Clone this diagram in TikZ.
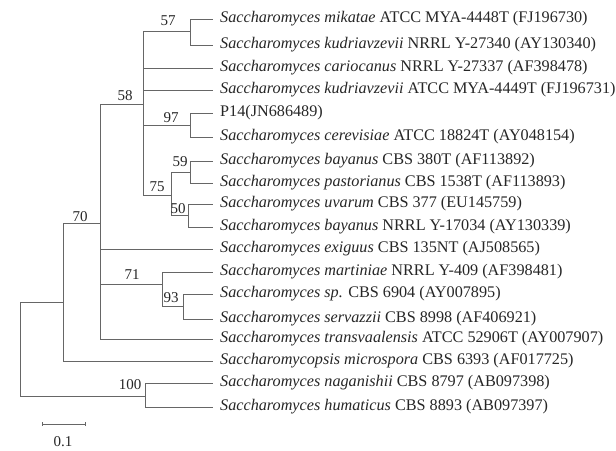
\documentclass[tikz,border=0pt]{standalone}
\usepackage{fontspec}
\setmainfont{Liberation Serif}
\begin{document}
\begin{tikzpicture}[x=1pt,y=-1pt,
  branch/.style={draw=black!60,line width=0.9pt},
  taxon/.style={anchor=west,inner xsep=7pt,inner ysep=1pt,text=black!85,font=\fontsize{16.2}{18}\selectfont},
  boot/.style={text=black!85,inner sep=0pt,font=\fontsize{15}{17}\selectfont}]
\useasboundingbox (0,0) rectangle (616,450);
% leaves
\node[taxon] (l1)  at (213,19)  {\textit{Saccharomyces mikatae} ATCC MYA-4448T (FJ196730)};
\node[taxon] (l2)  at (213,45)  {\textit{Saccharomyces kudriavzevii} NRRL Y-27340 (AY130340)};
\node[taxon] (l3)  at (213,68)  {\textit{Saccharomyces cariocanus} NRRL Y-27337 (AF398478)};
\node[taxon] (l4)  at (213,90)  {\textit{Saccharomyces kudriavzevii} ATCC MYA-4449T (FJ196731)};
\node[taxon] (l5)  at (213,113) {P14(JN686489)};
\node[taxon] (l6)  at (213,137) {\textit{Saccharomyces cerevisiae} ATCC 18824T (AY048154)};
\node[taxon] (l7)  at (213,161) {\textit{Saccharomyces bayanus} CBS 380T (AF113892)};
\node[taxon] (l8)  at (213,183) {\textit{Saccharomyces pastorianus} CBS 1538T (AF113893)};
\node[taxon] (l9)  at (213,204) {\textit{Saccharomyces uvarum} CBS 377 (EU145759)};
\node[taxon] (l10) at (213,227) {\textit{Saccharomyces bayanus} NRRL Y-17034 (AY130339)};
\node[taxon] (l11) at (213,249) {\textit{Saccharomyces exiguus} CBS 135NT (AJ508565)};
\node[taxon] (l12) at (213,272) {\textit{Saccharomyces martiniae} NRRL Y-409 (AF398481)};
\node[taxon] (l13) at (213,294) {\textit{Saccharomyces sp.} CBS 6904 (AY007895)};
\node[taxon] (l14) at (213,319) {\textit{Saccharomyces servazzii} CBS 8998 (AF406921)};
\node[taxon] (l15) at (213,339) {\textit{Saccharomyces transvaalensis} ATCC 52906T (AY007907)};
\node[taxon] (l16) at (213,361) {\textit{Saccharomycopsis microspora} CBS 6393 (AF017725)};
\node[taxon] (l17) at (213,383) {\textit{Saccharomyces naganishii} CBS 8797 (AB097398)};
\node[taxon] (l18) at (213,407) {\textit{Saccharomyces humaticus} CBS 8893 (AB097397)};
% internal nodes
\coordinate (n57) at (190,31);
\coordinate (n97) at (190,125);
\coordinate (n59) at (190,172);
\coordinate (n50) at (188,215);
\coordinate (n75) at (171,195);
\coordinate (n58) at (143,104);
\coordinate (n93) at (183,306);
\coordinate (n71) at (162,284);
\coordinate (n70) at (100,223);
\coordinate (nA)  at (63,302);
\coordinate (n100) at (145,396);
\coordinate (root) at (20,349);
% branches
\draw[branch] (n57) |- (l1.west) (n57) |- (l2.west);
\draw[branch] (n97) |- (l5.west) (n97) |- (l6.west);
\draw[branch] (n59) |- (l7.west) (n59) |- (l8.west);
\draw[branch] (n50) |- (l9.west) (n50) |- (l10.west);
\draw[branch] (n75) |- (n59) (n75) |- (n50);
\draw[branch] (n58) |- (n57) (n58) |- (l3.west) (n58) |- (l4.west) (n58) |- (n97) (n58) |- (n75);
\draw[branch] (n93) |- (l13.west) (n93) |- (l14.west);
\draw[branch] (n71) |- (l12.west) (n71) |- (n93);
\draw[branch] (n70) |- (n58) (n70) |- (l11.west) (n70) |- (n71) (n70) |- (l15.west);
\draw[branch] (nA) |- (n70) (nA) |- (l16.west);
\draw[branch] (n100) |- (l17.west) (n100) |- (l18.west);
\draw[branch] (root) |- (nA) (root) |- (n100);
% bootstrap values
\node[boot] (b57) at (168,21) {57};
\node[boot] (b58) at (125,96) {58};
\node[boot] (b97) at (171,118) {97};
\node[boot] (b59) at (180,162) {59};
\node[boot] (b75) at (157,187) {75};
\node[boot] (b50) at (178,209) {50};
\node[boot] (b70) at (80,217) {70};
\node[boot] (b71) at (132,275) {71};
\node[boot] (b93) at (171,298) {93};
\node[boot] (b100) at (130,385) {100};
% scale bar
\coordinate (s1) at (42,424);
\coordinate (s2) at (85,424);
\draw[branch] (s1) -- (s2);
\draw[branch] ([yshift=-2]s1) -- ([yshift=2]s1);
\draw[branch] ([yshift=-2]s2) -- ([yshift=2]s2);
\node[boot] (sl) at (63,442) {0.1};
\end{tikzpicture}
\end{document}
